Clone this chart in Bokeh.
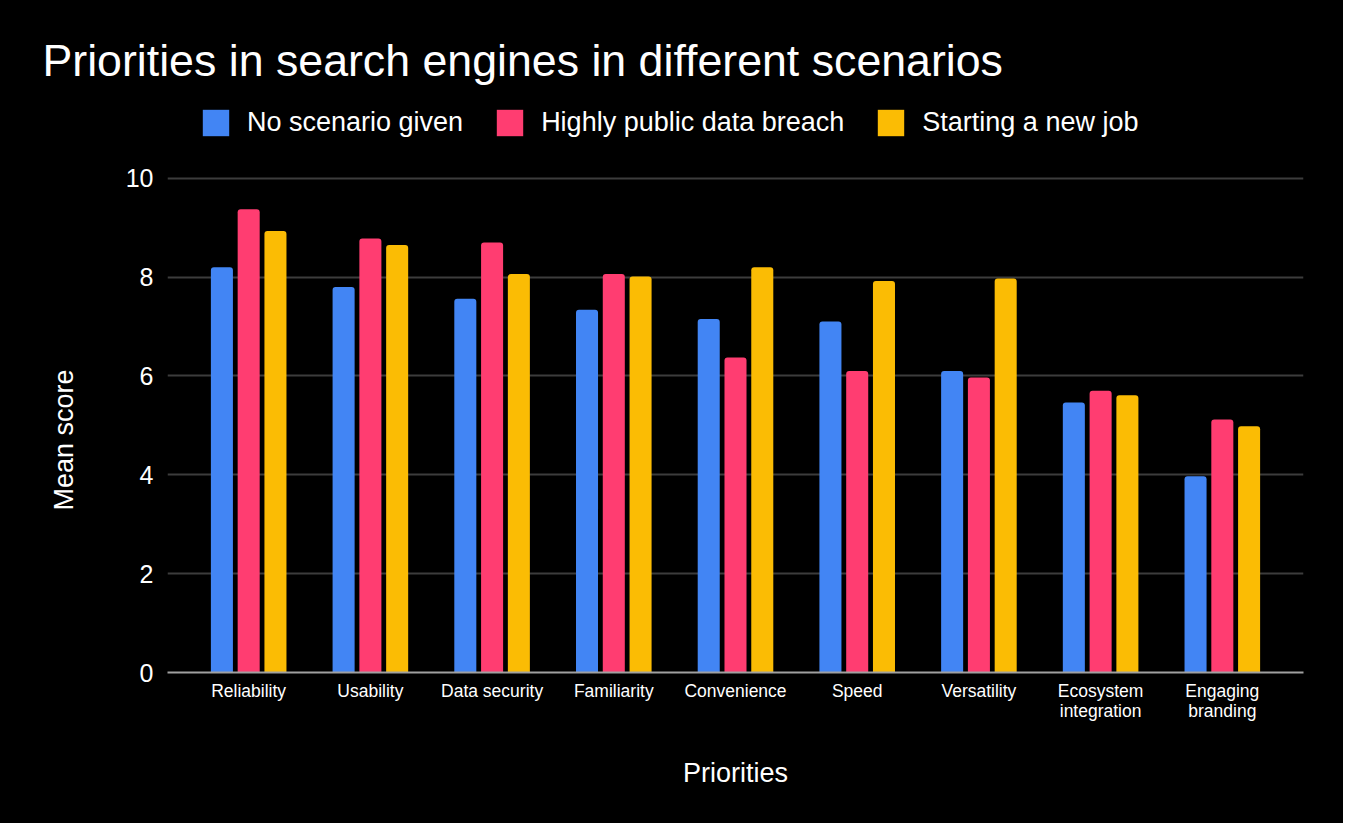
from bokeh.plotting import figure
from bokeh.models import (ColumnDataSource, Range1d, FixedTicker, Legend, LegendItem, Title)
from bokeh.transform import dodge
from bokeh.embed import file_html
from bokeh.resources import INLINE

categories = ["Reliability", "Usability", "Data security", "Familiarity", "Convenience",
              "Speed", "Versatility", "Ecosystem\nintegration", "Engaging\nbranding"]
series_names = ["No scenario given", "Highly public data breach", "Starting a new job"]
no_scenario = [8.2, 7.8, 7.56, 7.34, 7.15, 7.1, 6.1, 5.46, 3.97]
data_breach = [9.37, 8.78, 8.7, 8.06, 6.37, 6.1, 5.97, 5.7, 5.12]
new_job = [8.93, 8.65, 8.06, 8.01, 8.2, 7.92, 7.97, 5.61, 4.98]
y_ticks = [0, 2, 4, 6, 8, 10]
colors = ["#4285F4", "#FF3D71", "#FBBC04"]

FONT = "Liberation Sans"

src = ColumnDataSource(dict(
    x=list(range(len(categories))),
    s0=no_scenario, s1=data_breach, s2=new_job,
))

p = figure(width=1343, height=823, output_backend="svg", toolbar_location=None,
           x_range=Range1d(-0.667, len(categories) - 0.333), y_range=Range1d(0, 11.774),
           min_border_left=167, min_border_right=40, min_border_top=90, min_border_bottom=151,
           outline_line_color=None)
p.styles = {"background-color": "black"}

p.background_fill_color = "black"
p.border_fill_color = "black"

offsets = [-0.22, 0.0, 0.22]
renderers = []
for i, key in enumerate(["s0", "s1", "s2"]):
    r = p.vbar(x=dodge("x", offsets[i], range=p.x_range), top=key, bottom=0, width=0.181,
               source=src, fill_color=colors[i], line_color=None,
               border_radius=(3, 3, 0, 0))
    renderers.append(r)

# x axis (baseline + category labels)
p.xaxis.axis_line_color = "#a0a0a0"
p.xaxis.axis_line_width = 2
p.xaxis.major_tick_line_color = None
p.xaxis.minor_tick_line_color = None
p.xaxis.ticker = FixedTicker(ticks=list(range(len(categories))))
p.xaxis.major_label_overrides = {i: c for i, c in enumerate(categories)}
p.xaxis.major_label_text_color = "white"
p.xaxis.major_label_text_font = FONT
p.xaxis.major_label_text_font_size = "17.5px"
p.xaxis.major_label_text_line_height = 1.0
p.xaxis.major_label_standoff = 2
p.xaxis.axis_label = "Priorities"
p.xaxis.axis_label_text_color = "white"
p.xaxis.axis_label_text_font = FONT
p.xaxis.axis_label_text_font_size = "27px"
p.xaxis.axis_label_text_font_style = "normal"
p.xaxis.axis_label_standoff = 34

# y axis
p.yaxis.ticker = FixedTicker(ticks=y_ticks)
p.yaxis.axis_line_color = None
p.yaxis.major_tick_line_color = None
p.yaxis.minor_tick_line_color = None
p.yaxis.major_label_text_color = "white"
p.yaxis.major_label_text_font = FONT
p.yaxis.major_label_text_font_size = "25px"
p.yaxis.major_label_standoff = 8

ytitle = Title(text="Mean score", align="left", offset=162, standoff=88,
               text_color="white", text_font=FONT, text_font_size="27px",
               text_font_style="normal")
p.add_layout(ytitle, "left")

p.xgrid.grid_line_color = None
p.ygrid.grid_line_color = "#3c3c3c"
p.ygrid.grid_line_width = 2

legend = Legend(items=[LegendItem(label=series_names[i], renderers=[renderers[i]]) for i in range(3)],
                orientation="horizontal", location=(32, 533))
legend.background_fill_alpha = 0
legend.border_line_color = None
legend.label_text_color = "white"
legend.label_text_font = FONT
legend.label_text_font_size = "27px"
legend.glyph_width = 33
legend.glyph_height = 33
legend.label_standoff = 15
legend.spacing = 30
legend.margin = 0
legend.padding = 0
p.add_layout(legend, "center")

p.title.text = "Priorities in search engines in different scenarios"
p.title.text_color = "white"
p.title.text_font = FONT
p.title.text_font_size = "44.7px"
p.title.text_font_style = "normal"
p.title.align = "left"
p.title.offset = -125
p.title.standoff = 12

open("out.html", "w").write(file_html(p, INLINE))
